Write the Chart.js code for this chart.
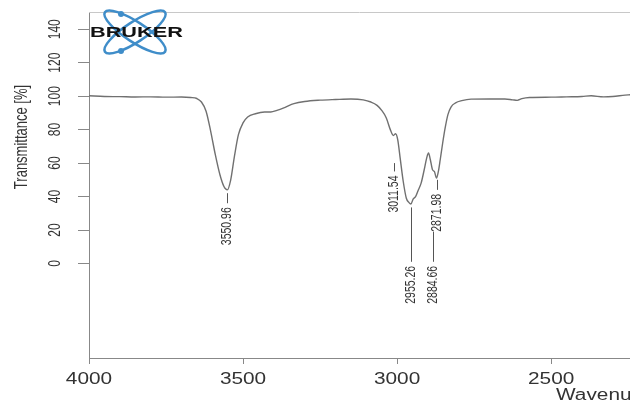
<!DOCTYPE html>
<html>
<head>
<meta charset="utf-8">
<script src="https://cdn.jsdelivr.net/npm/chart.js@4.4.1/dist/chart.umd.min.js"></script>
<style>
  html, body { margin: 0; background: #fff; }
  #wrap { width: 630px; height: 403px; }
</style>
</head>
<body>
<div id="wrap"><canvas id="chart"></canvas></div>
<script>
/* ---- spectrum ---- */
const wavenumbers = [
  4000, 3950, 3900, 3850, 3800, 3750, 3700, 3670, 3650, 3635, 3620, 3605, 3590, 3575, 3562, 3551,
  3540, 3528, 3515, 3500, 3485, 3460, 3430, 3410, 3390, 3365, 3335, 3300, 3250, 3200, 3150, 3110,
  3085, 3065, 3050, 3035, 3022, 3012, 3005, 2998, 2990, 2980, 2970, 2962, 2955, 2948, 2940, 2932,
  2922, 2912, 2904, 2898, 2892, 2885, 2879, 2872, 2866, 2860, 2852, 2844, 2835, 2825, 2810, 2790,
  2760, 2700, 2650, 2625, 2610, 2595, 2570, 2500, 2450, 2400, 2370, 2330, 2300, 2260, 2244
];
const transmittance = [
  100.2, 99.8, 99.7, 99.5, 99.6, 99.4, 99.5, 99.2, 98.6, 96.5, 91, 79, 65, 53, 46, 44,
  50, 64, 77, 84, 87.5, 89.5, 90.5, 90.5, 91.5, 93.2, 95.5, 96.8, 97.6, 98, 98.3, 97.8,
  96.5, 94.5, 91.5, 87, 80, 76.5, 77.5, 74, 63, 49, 39, 36.5, 35.5, 38.5, 40, 43.5,
  48, 56, 63, 66, 62, 56, 55, 51, 55, 62, 72, 81, 89, 93.5, 96, 97.3,
  98.2, 98.3, 98.3, 97.8, 97.5, 98.5, 99.2, 99.4, 99.6, 99.8, 100.2, 99.6, 99.8, 100.6, 100.8
];

/* ---- axes ---- */
const xTicks = [4000, 3500, 3000, 2500];
const yTicks = [0, 20, 40, 60, 80, 100, 120, 140];
const xTitle = 'Wavenumber cm-1';
const yTitle = 'Transmittance [%]';

/* ---- peak picks ---- */
const peakLabels     = ['3550.96', '3011.54', '2955.26', '2884.66', '2871.98'];
const peakPos        = [3550.96, 3011.54, 2955.26, 2884.66, 2871.98];
const peakLineTop    = [42, 60, 33.5, 19, 50];
const peakLineBottom = [36, 55, 1, 1, 44];

/* stretched text helper (the source image is wide-stretched) */
function sText(ctx, txt, x, y, sx, rot, align){
  ctx.save();
  ctx.translate(x, y);
  ctx.scale(sx, 1);
  if (rot) ctx.rotate(-Math.PI / 2);
  ctx.textAlign = align;
  ctx.textBaseline = 'middle';
  ctx.fillText(txt, 0, 0);
  ctx.restore();
}

const decor = {
  id: 'decor',
  beforeDraw(c){
    const ctx = c.ctx;
    ctx.save(); ctx.fillStyle = '#fff'; ctx.fillRect(0, 0, c.width, c.height); ctx.restore();
  },
  afterDraw(c){
    const ctx = c.ctx, xs = c.scales.x, ys = c.scales.y, a = c.chartArea;
    ctx.save();
    // top frame line
    ctx.strokeStyle = '#c8c8c8'; ctx.lineWidth = 1;
    ctx.beginPath(); ctx.moveTo(a.left, a.top + 0.5); ctx.lineTo(a.right, a.top + 0.5); ctx.stroke();

    // tick labels
    ctx.fillStyle = '#333';
    ctx.font = '16px "Liberation Sans", Arial, sans-serif';
    xs.ticks.forEach(t => sText(ctx, String(t.value), xs.getPixelForValue(t.value), 380, 1.3, false, 'center'));
    ctx.font = '12px "Liberation Sans", Arial, sans-serif';
    ys.ticks.forEach(t => sText(ctx, String(t.value), 55, ys.getPixelForValue(t.value), 1.45, true, 'center'));

    // axis titles
    ctx.font = '13px "Liberation Sans", Arial, sans-serif';
    sText(ctx, yTitle, 22, 137, 1.4, true, 'center');
    ctx.font = '16px "Liberation Sans", Arial, sans-serif';
    sText(ctx, xTitle, 556, 396, 1.3, false, 'left');

    // peak labels
    ctx.strokeStyle = '#555'; ctx.lineWidth = 1;
    ctx.font = '10.5px "Liberation Sans", Arial, sans-serif';
    peakLabels.forEach((lab, i) => {
      const px = Math.round(xs.getPixelForValue(peakPos[i])) + 0.5;
      const y1 = ys.getPixelForValue(peakLineTop[i]);
      const y2 = ys.getPixelForValue(peakLineBottom[i]);
      ctx.beginPath(); ctx.moveTo(px, y1); ctx.lineTo(px, y2); ctx.stroke();
      sText(ctx, lab, px, y2 + 4, 1.35, true, 'right');
    });

    // BRUKER logo
    ctx.strokeStyle = '#3f8dc9'; ctx.lineWidth = 2.5;
    [0.58, -0.58].forEach(r => {
      ctx.beginPath(); ctx.ellipse(135, 32, 36, 10, r, 0, Math.PI * 2); ctx.stroke();
    });
    ctx.fillStyle = '#3f8dc9';
    [[121, 14], [121, 51]].forEach(p => { ctx.beginPath(); ctx.arc(p[0], p[1], 3, 0, Math.PI * 2); ctx.fill(); });
    ctx.fillStyle = '#111';
    ctx.font = 'bold 14px "Liberation Sans", Arial, sans-serif';
    sText(ctx, 'BRUKER', 90, 33, 1.55, false, 'left');
    ctx.restore();
  }
};

new Chart(document.getElementById('chart'), {
  type: 'line',
  data: {
    datasets: [{
      data: wavenumbers.map((w, i) => ({ x: w, y: transmittance[i] })),
      borderColor: '#707070',
      borderWidth: 1.4,
      pointRadius: 0,
      cubicInterpolationMode: 'monotone',
      fill: false
    }]
  },
  options: {
    responsive: true,
    maintainAspectRatio: false,
    animation: false,
    layout: { padding: { top: 12, right: 0, left: 0, bottom: 0 } },
    plugins: { legend: { display: false }, tooltip: { enabled: false } },
    scales: {
      x: {
        type: 'linear', reverse: true, min: 2244, max: 4000,
        afterBuildTicks: s => { s.ticks = xTicks.map(v => ({ value: v })); },
        afterFit: s => { s.height = 45; },
        ticks: { display: false },
        grid: { drawOnChartArea: false, drawTicks: true, tickLength: 6, color: '#888' },
        border: { display: true, color: '#888', width: 1 }
      },
      y: {
        type: 'linear', min: -56.5, max: 150.3,
        afterBuildTicks: s => { s.ticks = yTicks.map(v => ({ value: v })); },
        afterFit: s => { s.width = 89; },
        ticks: { display: false },
        grid: { drawOnChartArea: false, drawTicks: true, tickLength: 11, color: '#888' },
        border: { display: true, color: '#888', width: 1 }
      }
    }
  },
  plugins: [decor]
});
</script>
</body>
</html>
